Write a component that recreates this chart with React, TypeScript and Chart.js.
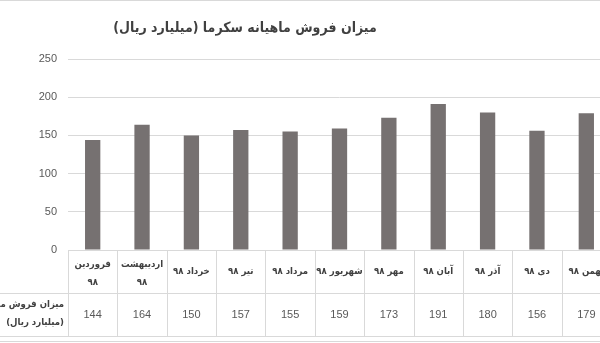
import React, { useEffect, useRef } from "react";
import { Chart, registerables } from "chart.js";

Chart.register(...registerables);

const TITLE = "میزان فروش ماهیانه سکرما (میلیارد ریال)";
const SERIES_LABEL: string[] = ["میزان فروش ماهیانه سکرما", "(میلیارد ریال)"];
const CATEGORIES: string[][] = [
  ["فروردین", "۹۸"],
  ["اردیبهشت", "۹۸"],
  ["خرداد ۹۸"],
  ["تیر ۹۸"],
  ["مرداد ۹۸"],
  ["شهریور ۹۸"],
  ["مهر ۹۸"],
  ["آبان ۹۸"],
  ["آذر ۹۸"],
  ["دی ۹۸"],
  ["بهمن ۹۸"],
];
const SALES: number[] = [144, 164, 150, 157, 155, 159, 173, 191, 180, 156, 179];
const Y_MIN = 0;
const Y_MAX = 250;
const Y_STEP = 50;

const GRID = "#d9d9d9";
const TEXT = "#595959";
const DARK = "#404040";
const BAR = "#767171";
const PERSIAN_FONT = "'DejaVu Sans Condensed', 'DejaVu Sans', sans-serif";
const NUM_FONT = "'Liberation Sans', Arial, sans-serif";

const tablePlugin = {
  id: "dataTable",
  afterDraw(chart: any) {
    const ctx: CanvasRenderingContext2D = chart.ctx;
    const area = chart.chartArea;
    const xs = chart.scales.x;
    const n = CATEGORIES.length;
    const colW = (area.right - area.left) / n;
    const top = area.bottom;
    const mid = top + 43;
    const bottom = top + 86;
    const W = chart.width;

    ctx.save();
    ctx.strokeStyle = GRID;
    ctx.lineWidth = 1;
    const hline = (x1: number, x2: number, y: number) => {
      ctx.beginPath();
      ctx.moveTo(x1, Math.round(y) + 0.5);
      ctx.lineTo(x2, Math.round(y) + 0.5);
      ctx.stroke();
    };
    const vline = (x: number, y1: number, y2: number) => {
      ctx.beginPath();
      ctx.moveTo(Math.round(x) + 0.5, y1);
      ctx.lineTo(Math.round(x) + 0.5, y2);
      ctx.stroke();
    };
    // outer chart border
    hline(0, W, 0);
    hline(0, W, 341);
    // table lines
    hline(area.left, W, top);
    hline(0, W, mid);
    hline(0, W, bottom);
    for (let i = 0; i <= n; i++) vline(area.left + i * colW, top, bottom);

    // header labels
    ctx.direction = "rtl";
    ctx.textAlign = "center";
    ctx.textBaseline = "middle";
    ctx.fillStyle = DARK;
    ctx.font = `bold 9.5px ${PERSIAN_FONT}`;
    CATEGORIES.forEach((lines, i) => {
      const cx = xs.getPixelForValue(i);
      const lh = 18;
      const cy = lines.length > 1 ? top + 24 : top + 22;
      const start = cy - ((lines.length - 1) * lh) / 2;
      lines.forEach((t, k) => ctx.fillText(t, cx, start + k * lh));
    });

    // values
    ctx.direction = "ltr";
    ctx.fillStyle = TEXT;
    ctx.font = `11px ${NUM_FONT}`;
    SALES.forEach((v, i) => {
      ctx.fillText(String(v), xs.getPixelForValue(i), mid + 22);
    });

    // row label
    ctx.direction = "rtl";
    ctx.textAlign = "right";
    ctx.fillStyle = DARK;
    ctx.font = `bold 9.5px ${PERSIAN_FONT}`;
    SERIES_LABEL.forEach((t, k) => ctx.fillText(t, area.left - 4, mid + 12 + k * 18));

    // title
    ctx.textAlign = "center";
    ctx.font = `bold 14px ${PERSIAN_FONT}`;
    ctx.fillStyle = DARK;
    ctx.fillText(TITLE, 245, 28);
    ctx.restore();
  },
};

export default function App() {
  const ref = useRef<HTMLCanvasElement | null>(null);
  useEffect(() => {
    if (!ref.current) return;
    const chart = new Chart(ref.current, {
      type: "bar",
      data: {
        labels: CATEGORIES,
        datasets: [
          {
            label: SERIES_LABEL.join(" "),
            data: SALES,
            backgroundColor: BAR,
            borderWidth: 0,
            barPercentage: 0.31,
            categoryPercentage: 1,
          },
        ],
      },
      options: {
        animation: false,
        responsive: true,
        maintainAspectRatio: false,
        layout: { padding: { top: 59, bottom: 93, left: 0, right: 9 } },
        plugins: { legend: { display: false }, title: { display: false }, tooltip: { enabled: false } },
        scales: {
          x: { display: false },
          y: {
            min: Y_MIN,
            max: Y_MAX,
            ticks: { stepSize: Y_STEP, padding: 11, color: TEXT, font: { family: NUM_FONT, size: 11 } },
            grid: { color: GRID, drawTicks: false },
            border: { display: false },
            afterFit: (s: any) => {
              s.width = 68;
            },
          },
        },
      },
      plugins: [tablePlugin],
    });
    return () => chart.destroy();
  }, []);
  return (
    <div style={{ position: "fixed", left: 0, top: 0, width: 600, height: 343, overflow: "hidden", background: "#fff" }}>
      <div style={{ position: "relative", width: 620, height: 343 }}>
        <canvas ref={ref} />
      </div>
    </div>
  );
}
